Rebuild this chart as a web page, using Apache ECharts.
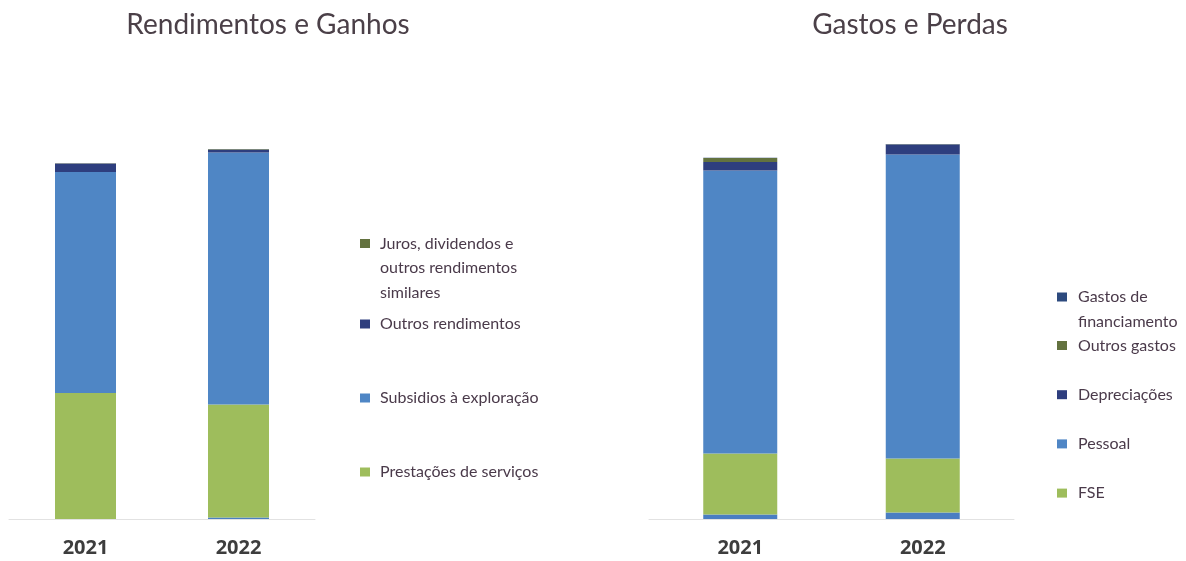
<!DOCTYPE html>
<html>
<head>
<meta charset="utf-8">
<script src="https://cdn.jsdelivr.net/npm/echarts@6/dist/echarts.min.js"></script>
<style>
html,body{margin:0;padding:0;background:#fff;}
#chart{width:1186px;height:561px;}
</style>
</head>
<body>
<div id="chart"></div>
<script>
// ---- Data (arbitrary units) ----
const years = ['2021', '2022'];

// Rendimentos e Ganhos
const rendBase = [0, 1.5];            // small unlabelled segment at the bottom
const prestacoes = [126, 113];
const subsidios = [221, 252];
const outrosRendimentos = [8.5, 3];
const juros = [0.3, 0.5];

// Gastos e Perdas
const gastosBase = [4.5, 6.5];        // small unlabelled segment at the bottom
const fse = [61, 54];
const pessoal = [283, 304];
const depreciacoes = [8.5, 10];
const outrosGastos = [4, 0.3];
const gastosFinanciamento = [0.2, 0.2];

const titleLeft = 'Rendimentos e Ganhos';
const titleRight = 'Gastos e Perdas';

const nJuros = 'Juros, dividendos e outros rendimentos similares';
const nOutRend = 'Outros rendimentos';
const nSubs = 'Subsidios à exploração';
const nPrest = 'Prestações de serviços';
const nGFin = 'Gastos de financiamento';
const nOutG = 'Outros gastos';
const nDep = 'Depreciações';
const nPess = 'Pessoal';
const nFSE = 'FSE';

// ---- Styling ----
const FONT = 'Lato, "Open Sans", sans-serif';
const TXT = '#4a3a4a';
const C_GREEN = '#9ebd5c';
const C_BLUE = '#4f86c5';
const C_NAVY = '#2e3e7e';
const C_OLIVE = '#63723f';
const C_FIN = '#2d4a7e';
const C_BASE = '#4a7ec2';

const chart = echarts.init(document.getElementById('chart'), null, {renderer: 'canvas'});

function xAx(gi) {
  return {
    type: 'category', gridIndex: gi, data: years,
    axisLine: {show: true, lineStyle: {color: '#e2e2e2', width: 1}},
    axisTick: {show: false},
    axisLabel: {margin: 19, fontFamily: '"Open Sans", sans-serif', fontWeight: 700, fontSize: 20, color: '#3d3d3d'}
  };
}
function yAx(gi) {
  return {type: 'value', gridIndex: gi, min: 0, max: 400, show: false, splitLine: {show: false}};
}
function bar(name, data, color, gi, width) {
  return {
    name: name, type: 'bar', stack: 's' + gi, xAxisIndex: gi, yAxisIndex: gi,
    data: data, barWidth: width, itemStyle: {color: color}, emphasis: {disabled: true}
  };
}
const legText = (padLeft) => ({fontFamily: FONT, fontSize: 16, color: TXT, lineHeight: 20, padding: [0, 0, 0, padLeft]});

const option = {
  animation: false,
  backgroundColor: '#ffffff',
  graphic: [
    {type: 'text', x: 268, y: 25, style: {text: titleLeft, font: '28px ' + FONT, fill: '#4b4048', align: 'center', verticalAlign: 'middle'}},
    {type: 'text', x: 910, y: 25, style: {text: titleRight, font: '28px ' + FONT, fill: '#4b4048', align: 'center', verticalAlign: 'middle'}}
  ],
  grid: [
    {left: 9, top: 119, width: 306, height: 400},
    {left: 649, top: 119, width: 365, height: 400}
  ],
  xAxis: [xAx(0), xAx(1)],
  yAxis: [yAx(0), yAx(1)],
  legend: [
    {
      orient: 'vertical', left: 360, top: 182.25, padding: 0, itemWidth: 10, itemHeight: 9,
      icon: 'rect', data: [nJuros],
      // two empty leading lines keep the icon level with the first text line
      formatter: () => '\n\nJuros, dividendos e\noutros rendimentos\nsimilares',
      textStyle: {fontFamily: FONT, fontSize: 16, color: TXT, lineHeight: 24.5, padding: [0, 0, 0, 5]}
    },
    {
      orient: 'vertical', left: 360, top: 314, padding: 0, itemWidth: 10, itemHeight: 9, itemGap: 54,
      icon: 'rect', data: [nOutRend, nSubs, nPrest],
      textStyle: legText(5)
    },
    {
      orient: 'vertical', left: 1057, top: 260.25, padding: 0, itemWidth: 10, itemHeight: 9,
      icon: 'rect', data: [nGFin],
      formatter: () => '\nGastos de\nfinanciamento',
      textStyle: {fontFamily: FONT, fontSize: 16, color: TXT, lineHeight: 24.5, padding: [0, 0, 0, 6]}
    },
    {
      orient: 'vertical', left: 1057, top: 335.5, padding: 0, itemWidth: 10, itemHeight: 9, itemGap: 29.2,
      icon: 'rect', data: [nOutG, nDep, nPess, nFSE],
      textStyle: legText(6)
    }
  ],
  series: [
    bar('Vendas', rendBase, C_BASE, 0, 61),
    bar(nPrest, prestacoes, C_GREEN, 0, 61),
    bar(nSubs, subsidios, C_BLUE, 0, 61),
    bar(nOutRend, outrosRendimentos, C_NAVY, 0, 61),
    bar(nJuros, juros, C_OLIVE, 0, 61),
    bar('CMVMC', gastosBase, C_BASE, 1, 74),
    bar(nFSE, fse, C_GREEN, 1, 74),
    bar(nPess, pessoal, C_BLUE, 1, 74),
    bar(nDep, depreciacoes, C_NAVY, 1, 74),
    bar(nOutG, outrosGastos, C_OLIVE, 1, 74),
    bar(nGFin, gastosFinanciamento, C_FIN, 1, 74)
  ]
};
chart.setOption(option);
</script>
</body>
</html>
